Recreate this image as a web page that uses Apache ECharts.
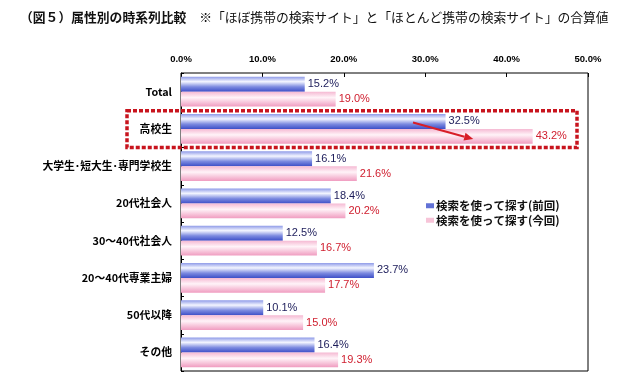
<!DOCTYPE html>
<html><head><meta charset="utf-8">
<script src="https://cdn.jsdelivr.net/npm/echarts@6/dist/echarts.min.js"></script>
<style>html,body{margin:0;padding:0;background:#fff}#c{width:618px;height:384px}</style>
</head><body><div id="c"></div>
<script>
const categories = ['Total','高校生','大学生･短大生･専門学校生','20代社会人','30～40代社会人','20～40代専業主婦','50代以降','その他'];
const prevValues = [15.2, 32.5, 16.1, 18.4, 12.5, 23.7, 10.1, 16.4];
const currValues = [19.0, 43.2, 21.6, 20.2, 16.7, 17.7, 15.0, 19.3];
const seriesNames = ['検索を使って探す(前回)', '検索を使って探す(今回)'];
const axisTicks = [0, 10, 20, 30, 40, 50];
const highlightCategory = '高校生';
const arrowFrom = 28.5, arrowTo = 35.9;

const CJK = "'Noto Sans CJK JP', sans-serif";
const chart = echarts.init(document.getElementById('c'), null, {renderer: 'canvas'});
const blueGrad = new echarts.graphic.LinearGradient(0, 0, 0, 1, [
  {offset: 0, color: '#8e9ae8'}, {offset: 0.33, color: '#f3f5ff'},
  {offset: 0.68, color: '#7c8ae0'}, {offset: 1, color: '#3e50c8'}]);
const pinkGrad = new echarts.graphic.LinearGradient(0, 0, 0, 1, [
  {offset: 0, color: '#f5b8d2'}, {offset: 0.4, color: '#fff3f8'},
  {offset: 1, color: '#f09cc0'}]);

chart.setOption({
  animation: false,
  title: {
    left: 15, top: 6,
    text: '{b|（図５）属性別の時系列比較}{n|　※「ほぼ携帯の検索サイト」と「ほとんど携帯の検索サイト」の合算値}',
    textStyle: {
      rich: {
        b: {fontFamily: CJK, fontSize: 12.8, fontWeight: 'bold', color: '#111'},
        n: {fontFamily: CJK, fontSize: 12.8, fontWeight: 'normal', color: '#111'}
      }
    }
  },
  legend: {
    orient: 'vertical', left: 421, top: 195,
    itemWidth: 8, itemHeight: 5, itemGap: 3,
    icon: 'rect',
    data: [
      {name: seriesNames[0], itemStyle: {color: '#6272d6'}},
      {name: seriesNames[1], itemStyle: {color: '#f7c4d8'}}
    ],
    textStyle: {fontFamily: CJK, fontSize: 11.5, fontWeight: 'bold', color: '#111', padding: [0, 0, 0, -3]}
  },
  grid: {left: 181, top: 73, right: 30, bottom: 13, show: true, borderColor: '#000', borderWidth: 1, containLabel: false},
  xAxis: {
    type: 'value', position: 'top', min: axisTicks[0], max: axisTicks[axisTicks.length - 1], interval: 10,
    axisLine: {show: false},
    axisTick: {show: true, inside: true, length: 4, lineStyle: {color: '#000'}},
    splitLine: {show: false},
    axisLabel: {margin: 9, fontFamily: "'Liberation Sans', Arial, sans-serif", fontSize: 9.5, fontWeight: 'bold', color: '#000',
      formatter: v => v.toFixed(1) + '%'}
  },
  yAxis: {
    type: 'category', inverse: true, data: categories,
    axisLine: {show: true, lineStyle: {color: '#000'}},
    axisTick: {show: true, inside: true, length: 3, lineStyle: {color: '#000'}},
    axisLabel: {margin: 9, fontFamily: CJK, fontSize: 10.8, fontWeight: 'bold', color: '#000'}
  },
  series: [
    {
      name: seriesNames[0], type: 'bar', data: prevValues,
      barCategoryGap: '20%', barGap: '0%',
      itemStyle: {color: blueGrad},
      label: {show: true, position: 'right', distance: 3, formatter: p => p.value.toFixed(1) + '%',
        fontFamily: "'Liberation Sans', Arial, sans-serif", fontSize: 11, color: '#1c1c5a'}
    },
    {
      name: seriesNames[1], type: 'bar', data: currValues,
      barCategoryGap: '20%', barGap: '0%',
      itemStyle: {color: pinkGrad},
      label: {show: true, position: 'right', distance: 3, formatter: p => p.value.toFixed(1) + '%',
        fontFamily: "'Liberation Sans', Arial, sans-serif", fontSize: 11, color: '#d02030'}
    }
  ]
});

// annotations positioned from the chart's own scales
const idx = categories.indexOf(highlightCategory);
const yc = chart.convertToPixel({yAxisIndex: 0}, idx);
const band = chart.convertToPixel({yAxisIndex: 0}, idx + 1) - yc;
const x0 = chart.convertToPixel({xAxisIndex: 0}, 0);
const p1 = chart.convertToPixel({xAxisIndex: 0}, arrowFrom);
const p2 = chart.convertToPixel({xAxisIndex: 0}, arrowTo);
const ang = Math.atan2(band * 0.42, p2 - p1);
const ex = p2, ey = yc + band * 0.27;
const sx = p1, sy = yc - band * 0.17;
const ah = 9, aw = 4;
chart.setOption({
  graphic: [
    {type: 'rect', shape: {x: x0 - 54, y: yc - band / 2 + 0.5, width: 450, height: band - 0.5},
     style: {fill: 'none', stroke: '#c8141e', lineWidth: 3.5, lineDash: [4, 2]}, z: 100},
    {type: 'line', shape: {x1: sx, y1: sy, x2: ex - Math.cos(ang) * ah, y2: ey - Math.sin(ang) * ah},
     style: {stroke: '#d81e28', lineWidth: 2}, z: 101},
    {type: 'polygon', shape: {points: [
      [ex, ey],
      [ex - Math.cos(ang) * ah - Math.sin(ang) * aw, ey - Math.sin(ang) * ah + Math.cos(ang) * aw],
      [ex - Math.cos(ang) * ah + Math.sin(ang) * aw, ey - Math.sin(ang) * ah - Math.cos(ang) * aw]]},
     style: {fill: '#d81e28'}, z: 101}
  ]
});
</script></body></html>
